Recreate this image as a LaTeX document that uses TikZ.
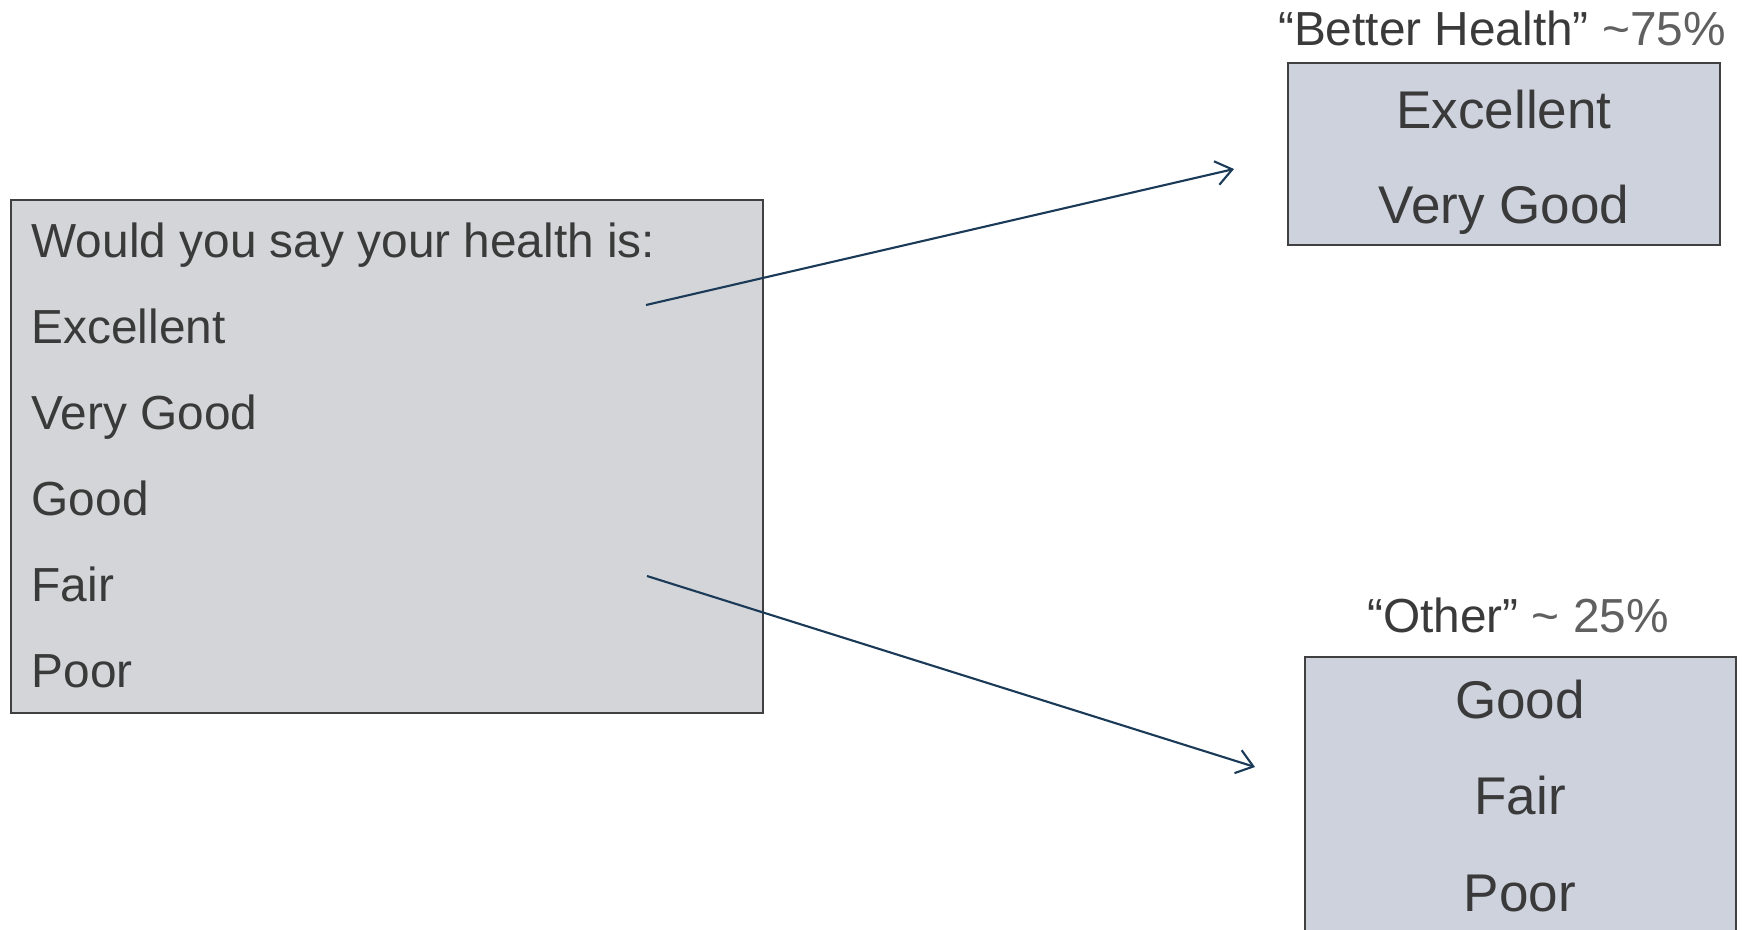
\documentclass[tikz,border=0pt]{standalone}
\usepackage{fontspec}
\setmainfont{Liberation Sans}
\usetikzlibrary{arrows.meta,positioning}
\definecolor{Ink}{HTML}{3A3A3A}
\definecolor{Dim}{HTML}{606060}
\definecolor{Frame}{HTML}{404040}
\definecolor{Stone}{HTML}{D3D5D8}
\definecolor{Slate}{HTML}{CDD2DD}
\definecolor{Navy}{HTML}{1B3A57}
\tikzset{
  qframe/.style={
    draw=Frame, line width=0.6pt, fill=Stone, inner sep=0pt,
    minimum width=7.52cm, minimum height=5.13cm
  },
  binframe/.style={
    draw=Frame, line width=0.6pt, fill=Slate, inner sep=0pt
  },
  qitem/.style={
    anchor=base west, inner sep=0pt, text=Ink,
    font=\fontsize{13.6}{16}\selectfont
  },
  binitem/.style={
    anchor=base, inner sep=0pt, text=Ink,
    font=\fontsize{15.1}{18}\selectfont
  },
  bintitle/.style={
    anchor=base, inner sep=0pt, text=Ink,
    font=\fontsize{13.6}{16}\selectfont
  },
  split/.style={-{Straight Barb[length=1.6mm,width=2.4mm]}, line width=0.6pt, draw=Navy}
}

\begin{document}
\begin{tikzpicture}
    \clip (0,0) rectangle (17.46,-9.29);
    \useasboundingbox (0,0) rectangle (17.46,-9.29);
    % question
    \node[qframe] (qbox) at (3.87,-4.565) {};
    \node[qitem] (q0) at (0.31,-2.57) {Would you say your health is:};
    \node[qitem] (q1) at (0.31,-3.43) {Excellent};
    \node[qitem] (q2) at (0.31,-4.29) {Very Good};
    \node[qitem] (q3) at (0.31,-5.15) {Good};
    \node[qitem] (q4) at (0.31,-6.01) {Fair};
    \node[qitem] (q5) at (0.31,-6.87) {Poor};
    % better health
    \node[binframe,minimum width=4.32cm,minimum height=1.82cm] (better) at (15.04,-1.54) {};
    \node[bintitle] (bettertitle) at (15.02,-0.45) {“Better Health” \textcolor{Dim}{\textasciitilde75\%}};
    \node[binitem] (b1) at (15.04,-1.28) {Excellent};
    \node[binitem] (b2) at (15.04,-2.23) {Very Good};
    % other
    \node[binframe,minimum width=4.31cm,minimum height=3.2cm,anchor=north] (other) at (15.205,-6.56) {};
    \node[bintitle] (othertitle) at (15.18,-6.32) {“Other” \textcolor{Dim}{\textasciitilde{} 25\%}};
    \node[binitem] (o1) at (15.2,-7.18) {Good};
    \node[binitem] (o2) at (15.2,-8.14) {Fair};
    \node[binitem] (o3) at (15.2,-9.11) {Poor};
    % connectors
    \coordinate (topfrom) at (6.46,-3.05);
    \coordinate (topto) at (12.34,-1.69);
    \coordinate (lowfrom) at (6.47,-5.76);
    \coordinate (lowto) at (12.55,-7.67);
    \draw[split] (topfrom)--(topto);
    \draw[split] (lowfrom)--(lowto);
  \end{tikzpicture}
\end{document}
